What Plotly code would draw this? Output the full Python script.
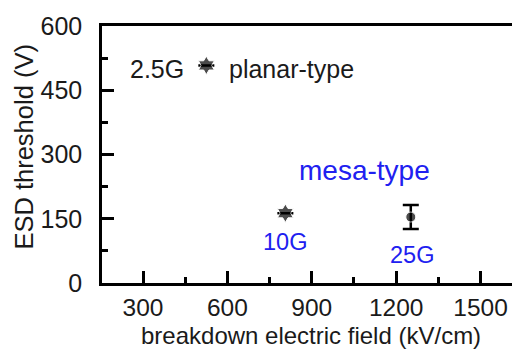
import plotly.graph_objects as go

# data
labels = ["2.5G", "10G", "25G"]
field = [525, 806, 1252]          # kV/cm
esd = [508, 163, 154]             # V
esd_err = [0, 0, 28]
symbols = ["hexagram", "hexagram", "circle"]

xticks = [300, 600, 900, 1200, 1500]
yticks = [0, 150, 300, 450, 600]

FONT = "Liberation Sans, Arial, sans-serif"
BLUE = "#2020f0"
INK = "#1a1a1a"

fig = go.Figure()
fig.add_trace(go.Scatter(
    x=field, y=esd, mode="markers",
    marker=dict(symbol=symbols, size=[14, 14, 10], color="black"),
    error_y=dict(type="data", array=esd_err, visible=True, color="black",
                 thickness=2.5, width=8),
    showlegend=False,
))

ann = [
    dict(x=350, y=500, text="2.5G", xanchor="center", font=dict(size=25, color=INK)),
    dict(x=598, y=500, text="planar-type", xanchor="left", font=dict(size=25, color=INK)),
    dict(x=805, y=96, text="10G", xanchor="center", font=dict(size=23.5, color=BLUE)),
    dict(x=1258, y=66, text="25G", xanchor="center", font=dict(size=23.5, color=BLUE)),
    dict(x=1089, y=262, text="mesa-type", xanchor="center", font=dict(size=28, color=BLUE)),
]
for a in ann:
    a.update(xref="x", yref="y", showarrow=False, yanchor="middle", font=dict(family=FONT, **a["font"]))
    fig.add_annotation(**a)

fig.add_annotation(xref="paper", yref="paper", x=0.496, y=-0.205, text="breakdown electric field (kV/cm)",
                   showarrow=False, xanchor="center", yanchor="middle",
                   font=dict(family=FONT, size=24, color=INK))
fig.add_annotation(xref="paper", yref="paper", x=-0.1875, y=0.531, text="ESD threshold (V)",
                   showarrow=False, textangle=-90, xanchor="center", yanchor="middle",
                   font=dict(family=FONT, size=25.5, color=INK))

axis_common = dict(
    showline=True, linecolor="black", linewidth=2.5,
    ticks="inside", ticklen=12, tickwidth=2.5, tickcolor="black",
    showgrid=False, zeroline=False,
)
fig.update_layout(
    width=520, height=353,
    margin=dict(l=94, r=2, t=18, b=78),
    paper_bgcolor="white", plot_bgcolor="white",
    xaxis=dict(range=[154, 1651], tickvals=xticks, mirror=True,
               minor=dict(ticks="inside", ticklen=6, tickwidth=2.5, tickcolor="black", dtick=150, tick0=0),
               ticklabelstandoff=1, tickfont=dict(family=FONT, size=24.5, color=INK), **axis_common),
    yaxis=dict(range=[0, 600], tickvals=yticks, mirror=True,
               minor=dict(ticks="inside", ticklen=6, tickwidth=2.5, tickcolor="black", dtick=75, tick0=0),
               ticklabelstandoff=12, tickfont=dict(family=FONT, size=25, color=INK), **axis_common),
)
fig.write_html("out.html")
